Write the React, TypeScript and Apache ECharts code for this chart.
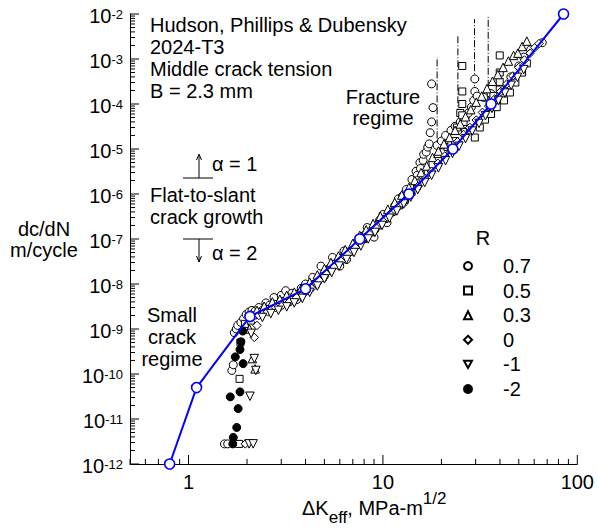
import React, { useEffect, useRef } from 'react';
import * as echarts from 'echarts';

const FONT = '"Liberation Sans", Arial, Helvetica, sans-serif';

const X_MIN = 0.5;
const X_MAX = 100;
const Y_MIN = 1e-12;
const Y_MAX = 1e-2;

const xTickLabels = [1, 10, 100];
const rValues = ['0.7', '0.5', '0.3', '0', '-1', '-2'];

// blue reference curve
const blueX = [0.8, 1.1, 2.07, 4.0, 7.6, 13.6, 22.9, 36, 85];
const blueY = [1e-12, 5e-11, 1.9e-9, 7.8e-9, 1.0e-7, 1.0e-6, 1.0e-5, 1.0e-4, 1.0e-2];

// fracture dash-dot lines
const fractureX = [19.0, 24.3, 29.6, 34.8];
const fractureTop = [1.1e-3, 3.2e-3, 7.7e-3, 9.5e-3];
const fractureBottom = [9.3e-6, 5.6e-5, 8.5e-5, 1.3e-4];

const r07: [number, number][] = [
  [1.53, 2.8e-12], [1.59, 2.8e-12], [1.67, 1.2e-10], [1.7, 1.6e-10], [1.72, 8.3e-10], [1.76, 1.0e-9],
  [1.79, 1.2e-9], [1.86, 1.4e-9], [1.92, 1.7e-9], [1.98, 2.1e-9], [2.05, 2.4e-9], [2.12, 2.6e-9], [2.2, 2.5e-9],
  [2.3, 3.0e-9], [2.4, 2.6e-9], [2.5, 3.8e-9], [2.62, 3.4e-9], [2.75, 5.0e-9], [2.9, 3.0e-9], [3.0, 5.6e-9],
  [3.16, 7.1e-9], [3.3, 4.0e-9], [3.4, 6.2e-9], [3.6, 4.5e-9], [3.8, 8.0e-9], [4.0, 1.0e-8], [4.35, 1.4e-8],
  [4.6, 1.1e-8], [4.8, 2.5e-8], [5.0, 1.5e-8], [5.3, 2.2e-8], [5.5, 3.9e-8], [5.8, 3.0e-8], [6.0, 2.5e-8],
  [6.3, 5.4e-8], [6.5, 3.5e-8], [6.9, 5.5e-8], [7.2, 8.0e-8], [7.6, 8.9e-8], [8.0, 1.2e-7], [8.3, 1.8e-7],
  [9.0, 1.1e-7], [9.1, 1.6e-7], [9.6, 2.6e-7], [10, 3.5e-7], [10.5, 2.3e-7], [11, 3.8e-7], [11.5, 5.5e-7], [12, 7.8e-7],
  [12.6, 9.0e-7], [12.8, 6.5e-7], [13.2, 1.26e-6], [14.1, 2.1e-6], [14.8, 3.2e-6], [15.0, 2.6e-6],
  [15.5, 5.0e-6], [15.6, 3.7e-6], [16.1, 5.6e-6], [16.2, 7.6e-6], [16.7, 8.5e-6], [17.0, 1.1e-5],
  [17.3, 1.3e-5], [17.5, 2.3e-5], [17.8, 4.0e-5], [18.1, 8.3e-5], [17.8, 2.8e-4],
  [19, 1.2e-5], [20, 1.5e-5], [21, 2.0e-5], [22.4, 2.6e-5], [23.5, 3.2e-5], [25, 4.0e-5], [26.5, 5.0e-5],
  [27.5, 6.3e-5], [28.5, 8.5e-5], [29.3, 1.2e-4], [29.7, 1.9e-4], [29.7, 3.6e-4], [30.5, 1.5e-4],
  [33, 1.4e-4], [36, 1.7e-4], [42, 2.0e-4], [45.5, 4.0e-4], [50, 7.0e-4], [53, 1.1e-3], [57.5, 1.6e-3], [66, 2.3e-3],
];

const r05: [number, number][] = [
  [1.85, 5.0e-10], [1.83, 7.8e-11], [1.82, 2.8e-12], [1.95, 1.3e-9],
  [2.15, 2.0e-9], [2.35, 2.4e-9], [2.6, 2.8e-9], [2.85, 3.6e-9], [3.1, 4.2e-9], [3.4, 5.0e-9], [3.7, 6.0e-9],
  [4.1, 7.5e-9], [4.5, 1.0e-8], [4.9, 1.4e-8], [5.3, 2.0e-8], [5.7, 2.8e-8], [6.2, 3.8e-8], [6.7, 5.2e-8],
  [7.3, 7.5e-8], [7.9, 1.0e-7], [8.6, 1.4e-7], [9.4, 2.0e-7], [10.2, 2.8e-7], [11.1, 4.0e-7], [12.1, 5.6e-7],
  [13.0, 7.5e-7], [14.0, 1.1e-6], [15.0, 1.5e-6], [16.0, 2.3e-6], [17.0, 3.0e-6], [18.0, 4.5e-6], [19.2, 6.0e-6],
  [20.5, 8.5e-6], [21.5, 1.1e-5], [22.5, 1.3e-5], [23.5, 1.5e-5], [24.0, 3.0e-5], [25.0, 6.3e-5], [26.0, 4.0e-5],
  [25.6, 1.0e-4], [25.6, 1.9e-4], [25.6, 7.0e-4], [25.6, 5.6e-5], [26.5, 2.4e-5], [28.0, 2.6e-5], [29.7, 1.8e-5],
  [31.5, 3.0e-5], [33.5, 4.5e-5], [36, 6.0e-5], [37, 1.5e-4], [38.5, 8.5e-5], [42, 1.2e-4], [45, 1.8e-4],
  [48, 3.0e-4], [52, 5.0e-4], [55, 8.0e-4], [39.9, 2.1e-4], [39.9, 3.1e-4], [39.9, 5.0e-4], [39.9, 1.2e-3],
];

const r03: [number, number][] = [
  [2.13, 2.2e-10], [2.2, 1.3e-10], [2.06, 1.0e-9], [2.1, 1.6e-9],
  [2.25, 2.6e-9], [2.45, 3.2e-9], [2.7, 4.0e-9], [2.95, 4.6e-9], [3.2, 5.6e-9], [3.5, 6.6e-9], [3.8, 8.0e-9],
  [4.2, 1.1e-8], [4.6, 1.6e-8], [5.0, 2.2e-8], [5.4, 3.0e-8], [5.9, 4.2e-8], [6.4, 5.8e-8], [7.0, 8.0e-8],
  [7.6, 1.2e-7], [8.2, 1.6e-7], [8.9, 2.2e-7], [9.7, 3.2e-7], [10.6, 4.6e-7], [11.5, 6.5e-7], [12.5, 9.5e-7],
  [13.6, 1.4e-6], [14.6, 2.0e-6], [15.7, 3.0e-6], [16.8, 4.2e-6], [18.0, 6.5e-6], [19.2, 8.0e-6], [19.3, 9.0e-6],
  [20.6, 1.3e-5], [22.0, 1.8e-5], [23.5, 2.6e-5], [25.0, 3.6e-5], [26.6, 5.2e-5], [28.3, 7.5e-5], [30.2, 1.1e-4],
  [32.2, 1.5e-4], [34.3, 2.2e-4], [36.6, 3.2e-4], [39.0, 4.5e-4], [41.5, 6.5e-4], [44.2, 9.0e-4], [47.0, 1.2e-3],
  [49.5, 1.35e-3], [52, 1.9e-3], [55, 2.5e-3],
];

const r0: [number, number][] = [
  [2.18, 6.5e-10], [1.96, 2.8e-12], [2.25, 1.2e-9],
  [2.3, 2.0e-9], [2.55, 2.4e-9], [2.8, 3.0e-9], [3.05, 3.4e-9], [3.3, 4.0e-9], [3.6, 5.0e-9], [3.9, 6.0e-9],
  [4.3, 8.0e-9], [4.7, 1.2e-8], [5.1, 1.7e-8], [5.6, 2.4e-8], [6.1, 3.2e-8], [6.6, 4.5e-8], [7.2, 6.5e-8],
  [7.8, 9.0e-8], [8.5, 1.3e-7], [9.2, 1.8e-7], [10.0, 2.5e-7], [10.9, 3.6e-7], [11.9, 5.0e-7], [12.9, 7.0e-7],
  [14.0, 1.0e-6], [15.2, 1.5e-6], [16.5, 2.2e-6], [17.8, 3.2e-6], [19.2, 4.8e-6], [20.8, 7.0e-6], [22.4, 1.0e-5],
  [24.2, 1.45e-5], [26.0, 2.1e-5], [28.0, 3.0e-5], [30.2, 4.4e-5], [32.5, 6.5e-5], [35.0, 9.0e-5], [37.6, 1.3e-4],
  [40.4, 1.9e-4], [43.4, 2.8e-4], [46.6, 4.2e-4], [50.0, 6.5e-4], [53.5, 9.5e-4], [57.2, 1.35e-3], [60.5, 1.8e-3],
  [63.5, 2.2e-3],
];

const rm1: [number, number][] = [
  [2.18, 2.2e-10], [2.22, 1.2e-10], [2.07, 3.2e-11], [2.05, 2.8e-12], [2.15, 2.8e-12], [2.1, 8.0e-10],
  [2.4, 1.8e-9], [2.65, 2.2e-9], [2.9, 2.6e-9], [3.2, 3.1e-9], [3.5, 3.8e-9], [3.85, 4.8e-9], [4.2, 6.5e-9],
  [4.6, 9.0e-9], [5.0, 1.3e-8], [5.45, 1.8e-8], [5.95, 2.5e-8], [6.5, 3.5e-8], [7.1, 5.0e-8], [7.7, 7.0e-8],
  [8.4, 1.0e-7], [9.1, 1.4e-7], [9.9, 2.0e-7], [10.8, 2.9e-7], [11.8, 4.2e-7], [12.8, 6.0e-7], [13.9, 8.5e-7],
  [15.1, 1.25e-6], [16.4, 1.8e-6], [17.8, 2.6e-6], [19.3, 3.8e-6], [21.0, 5.5e-6], [22.8, 8.0e-6], [24.6, 1.15e-5],
  [26.6, 1.7e-5], [28.8, 2.5e-5], [31.2, 3.7e-5], [33.7, 5.5e-5], [36.4, 8.0e-5], [39.3, 1.2e-4], [42.4, 1.75e-4],
  [45.7, 2.6e-4], [49.2, 3.9e-4], [53, 5.8e-4],
];

const rm2: [number, number][] = [
  [1.9, 9.0e-10], [1.86, 5.2e-10], [1.84, 3.5e-10], [1.74, 2.4e-10], [1.91, 1.7e-10], [1.64, 3.1e-11],
  [1.84, 4.0e-11], [1.8, 1.7e-11], [1.77, 6.5e-12], [1.7, 3.9e-12], [1.69, 2.8e-12],
];

const seriesData = [r07, r05, r03, r0, rm1, rm2];
const seriesSymbols = ['circle', 'rect', 'triangle', 'diamond', 'triangle', 'circle'];
const legendIcons = ['circle', 'rect', 'triangle', 'diamond', 'path://M0,0L10,0L5,9Z', 'circle'];
const seriesRotate = [0, 0, 0, 0, 180, 0];
const seriesSizes = [8, 7, 8.5, 8.5, 8.5, 8];
const seriesFill = ['#fff', '#fff', '#fff', '#fff', '#fff', '#000'];

function buildTicks() {
  const xt: number[][] = [];
  const yt: number[][] = [];
  for (let e = -1; e <= 2; e++) {
    for (let m = 1; m <= 9; m++) {
      const v = m * Math.pow(10, e);
      if (v < X_MIN - 1e-9 || v > X_MAX + 1e-9) continue;
      xt.push([v, Y_MIN, m === 1 ? 9 : 5]);
    }
  }
  for (let e = -12; e <= -2; e++) {
    for (let m = 1; m <= 9; m++) {
      const v = m * Math.pow(10, e);
      if (v > Y_MAX * 1.0001) continue;
      yt.push([X_MIN, v, m === 1 ? 9 : 5]);
    }
  }
  return { xt, yt };
}

function txt(text: string, x: number, y: number, align = 'left', size = 20) {
  return {
    type: 'text', x, y, silent: true, z: 50,
    style: {
      text, fill: '#000', fontSize: size, fontFamily: FONT,
      textAlign: align, textVerticalAlign: 'middle', align, verticalAlign: 'middle',
    },
  };
}

function ln(x1: number, y1: number, x2: number, y2: number) {
  return { type: 'line', silent: true, z: 50, shape: { x1, y1, x2, y2 }, style: { stroke: '#000', lineWidth: 1 } };
}

function arrowHead(points: number[][]) {
  return { type: 'polyline', silent: true, z: 50, shape: { points }, style: { stroke: '#000', fill: 'none', lineWidth: 1 } };
}

export default function App() {
  const ref = useRef<HTMLDivElement>(null);

  useEffect(() => {
    if (!ref.current) return;
    const chart = echarts.init(ref.current, undefined, { renderer: 'svg' });
    const { xt, yt } = buildTicks();

    const scatterSeries = rValues.map((name, i) => ({
      name,
      type: 'scatter',
      data: seriesData[i],
      symbol: seriesSymbols[i],
      symbolRotate: seriesRotate[i],
      symbolSize: seriesSizes[i],
      itemStyle: { color: seriesFill[i], borderColor: '#000', borderWidth: 1, opacity: 1 },
      z: 3,
      silent: true,
    }));

    const fractureSeries = fractureX.map((x, i) => ({
      name: 'fracture' + i,
      type: 'line',
      data: [[x, fractureBottom[i]], [x, fractureTop[i]]],
      symbol: 'none',
      lineStyle: { color: '#000', width: 1, type: [7, 2, 1, 2] },
      z: 2,
      silent: true,
    }));

    const tickSeries = (data: number[][], vertical: boolean) => ({
      type: 'custom',
      coordinateSystem: 'cartesian2d',
      silent: true,
      z: 6,
      data,
      encode: { x: 0, y: 1 },
      renderItem: (_p: any, api: any) => {
        const pt = api.coord([api.value(0), api.value(1)]);
        const len = api.value(2);
        return {
          type: 'line',
          shape: vertical
            ? { x1: pt[0], y1: pt[1], x2: pt[0], y2: pt[1] - len }
            : { x1: pt[0], y1: pt[1], x2: pt[0] + len, y2: pt[1] },
          style: { stroke: '#000', lineWidth: 1 },
        };
      },
    });

    const option: any = {
      animation: false,
      grid: { left: 130, right: 17, top: 14, bottom: 67, containLabel: false },
      xAxis: {
        type: 'log', logBase: 10, min: X_MIN, max: X_MAX,
        axisLine: { show: true, lineStyle: { color: '#000', width: 1 } },
        axisTick: { show: false }, minorTick: { show: false }, splitLine: { show: false },
        axisLabel: {
          color: '#000', fontSize: 20, fontFamily: FONT, margin: 8,
          formatter: (v: number) => (xTickLabels.some((t) => Math.abs(t - v) < 1e-6) ? String(Math.round(v)) : ''),
        },
      },
      yAxis: {
        type: 'log', logBase: 10, min: Y_MIN, max: Y_MAX, interval: 1,
        axisLine: { show: true, lineStyle: { color: '#000', width: 1 } },
        axisTick: { show: false }, minorTick: { show: false }, splitLine: { show: false },
        axisLabel: {
          color: '#000', margin: 7,
          formatter: (v: number) => {
            const e = Math.round(Math.log10(v));
            return `{b|10}{s|${e}}`;
          },
          rich: {
            b: { fontSize: 20, fontFamily: FONT, color: '#000', lineHeight: 14, verticalAlign: 'bottom' },
            s: { fontSize: 13, fontFamily: FONT, color: '#000', lineHeight: 24, verticalAlign: 'middle' },
          },
        },
      },
      legend: {
        orient: 'vertical', left: 458, top: 251, itemWidth: 8, itemHeight: 8, itemGap: 4.6,
        selectedMode: false,
        data: rValues.map((name, i) => ({ name, icon: legendIcons[i] })),
        textStyle: { fontSize: 20, fontFamily: FONT, color: '#000', padding: [0, 0, 0, 26] },
      },
      graphic: [
        txt('Hudson, Phillips & Dubensky', 150, 25),
        txt('2024-T3', 150, 47),
        txt('Middle crack tension', 150, 69),
        txt('B = 2.3 mm', 150, 91),
        txt('Fracture', 383, 97, 'center'),
        txt('regime', 383, 118, 'center'),
        txt('\u03b1 = 1', 212, 164),
        ln(183, 178, 213, 178), ln(199, 178, 199, 155), arrowHead([[196.5, 160], [199, 154], [201.5, 160]]),
        txt('Flat-to-slant', 150, 195),
        txt('crack growth', 150, 217),
        ln(183, 239, 213, 239), ln(199, 239, 199, 262), arrowHead([[196.5, 256], [199, 262], [201.5, 256]]),
        txt('\u03b1 = 2', 212, 253),
        txt('dc/dN', 44, 229, 'center'),
        txt('m/cycle', 44, 250, 'center'),
        txt('Small', 172, 315, 'center'),
        txt('crack', 172, 337, 'center'),
        txt('regime', 172, 359, 'center'),
        txt('R', 483, 238, 'center'),
        {
          type: 'text', x: 302, y: 508, silent: true, z: 50,
          style: {
            text: '{m|\u0394K}{sub|eff}{m|, MPa-m}{sup|1/2}',
            textVerticalAlign: 'middle', verticalAlign: 'middle', textAlign: 'left', align: 'left',
            rich: {
              m: { fontSize: 20, fontFamily: FONT, fill: '#000', color: '#000', lineHeight: 36, verticalAlign: 'middle' },
              sub: { fontSize: 17, fontFamily: FONT, fill: '#000', color: '#000', lineHeight: 24, verticalAlign: 'bottom' },
              sup: { fontSize: 17, fontFamily: FONT, fill: '#000', color: '#000', lineHeight: 18, verticalAlign: 'top' },
            },
          },
        },
      ],
      series: [
        ...fractureSeries,
        ...scatterSeries,
        {
          name: 'fit',
          type: 'line',
          data: blueX.map((x, i) => [x, blueY[i]]),
          symbol: 'circle',
          symbolSize: 10,
          showSymbol: true,
          lineStyle: { color: '#0000ff', width: 2 },
          itemStyle: { color: '#fff', borderColor: '#0000ff', borderWidth: 1.6 },
          z: 10,
          silent: true,
        },
        tickSeries(xt, true),
        tickSeries(yt, false),
      ],
    };
    chart.setOption(option);
    return () => chart.dispose();
  }, []);

  return <div ref={ref} style={{ position: 'absolute', left: 0, top: 0, width: 597, height: 531 }} />;
}
